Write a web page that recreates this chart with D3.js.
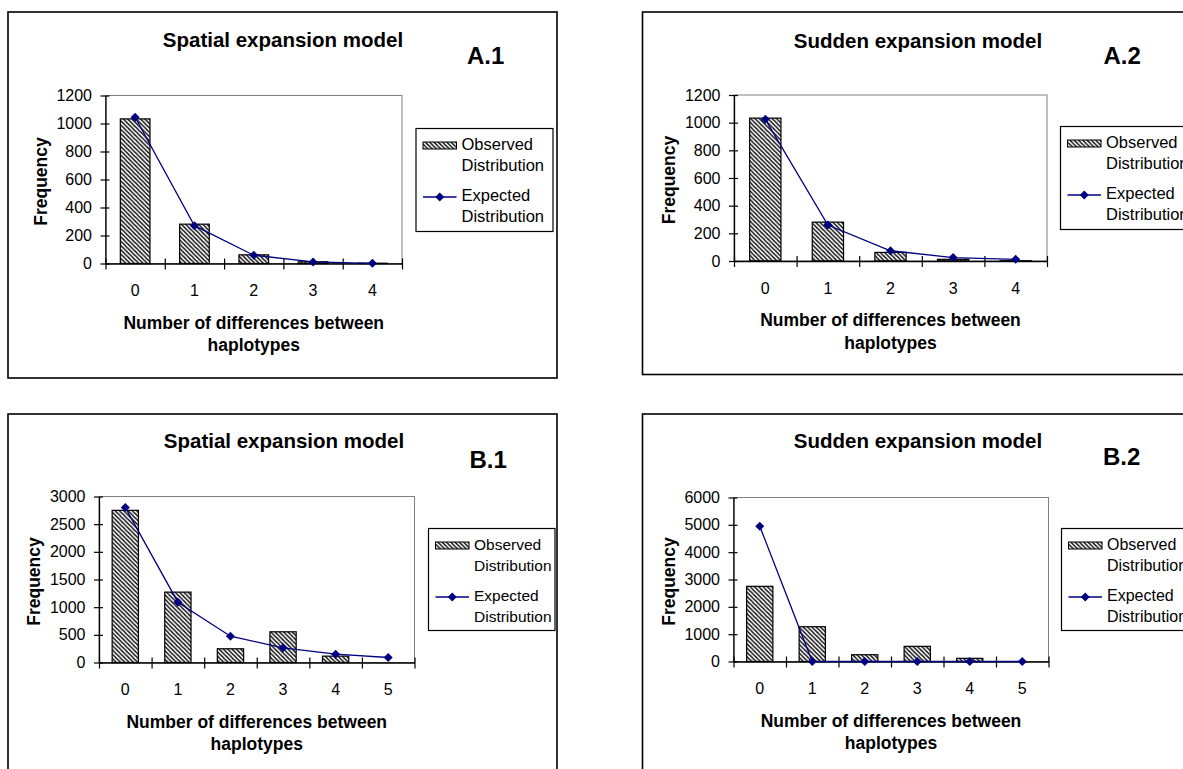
<!DOCTYPE html>
<html lang="en">
<head>
    <meta charset="UTF-8">
    <title>Mismatch distributions</title>
    <script src="https://cdn.jsdelivr.net/npm/d3@7/dist/d3.min.js"></script>
    <style>
        body { margin: 0; background: #fff; }
    </style>
</head>
<body>
    <script>

        //categories (number of differences)
        var catsA = ['0', '1', '2', '3', '4'];
        var catsB = ['0', '1', '2', '3', '4', '5'];

        //observed values (same data in both models)
        var observedA = [1033, 281, 62, 12, 2];
        var observedB = [2750, 1272, 248, 555, 115, 0];

        //expected values per model
        var expectedA1 = [1045, 270, 59, 11, 1];
        var expectedA2 = [1024, 260, 74, 25, 12];
        var expectedB1 = [2800, 1090, 475, 265, 150, 90];
        var expectedB2 = [4950, 0, 0, 0, 0, 0];

        //y tick values
        var yTicksA = [0, 200, 400, 600, 800, 1000, 1200];
        var yTicksB1 = [0, 500, 1000, 1500, 2000, 2500, 3000];
        var yTicksB2 = [0, 1000, 2000, 3000, 4000, 5000, 6000];

        //texts
        var titles = ['Spatial expansion model', 'Sudden expansion model'];
        var tags = ['A.1', 'A.2', 'B.1', 'B.2'];
        var yTitle = 'Frequency';
        var xTitle = ['Number of differences between', 'haplotypes'];
        var legendLabels = [['Observed', 'Distribution'], ['Expected', 'Distribution']];

        var font = '"Liberation Sans", Arial, sans-serif';
        var navy = '#000080';

        //panel layouts
        var panels = [
            { cats: catsA, obs: observedA, exp: expectedA1, yTicks: yTicksA, title: titles[0], tag: tags[0],
              fx: 8, fy: 12, fw: 549, fh: 366, l: 105.5, t: 95.5, r: 402, b: 263.5,
              titleX: 283, titleY: 47, tagX: 467, tagY: 64, lx: 416, ly: 128.5, lw: 137, lh: 103, lf: 16.5 },
            { cats: catsA, obs: observedA, exp: expectedA2, yTicks: yTicksA, title: titles[1], tag: tags[1],
              fx: 642.5, fy: 12, fw: 552, fh: 362.5, l: 734, t: 95, r: 1047, b: 261,
              titleX: 918, titleY: 47.5, tagX: 1103.5, tagY: 63.5, lx: 1060.5, ly: 126.5, lw: 137, lh: 103, lf: 16.5 },
            { cats: catsB, obs: observedB, exp: expectedB1, yTicks: yTicksB1, title: titles[0], tag: tags[2],
              fx: 8, fy: 414, fw: 549, fh: 400, l: 99, t: 496.5, r: 414.5, b: 662.5,
              titleX: 284, titleY: 448, tagX: 469.5, tagY: 468, lx: 428.5, ly: 528.5, lw: 126.5, lh: 102, lf: 15.5 },
            { cats: catsB, obs: observedB, exp: expectedB2, yTicks: yTicksB2, title: titles[1], tag: tags[3],
              fx: 642.5, fy: 414, fw: 552, fh: 400, l: 733.5, t: 497.5, r: 1048.5, b: 661.5,
              titleX: 918, titleY: 448, tagX: 1103, tagY: 464.5, lx: 1061.5, ly: 528.5, lw: 137, lh: 102, lf: 16 }
        ];

        //create svg
        var svg = d3.select('body')
                    .append('svg')
                    .attr('width', 1183)
                    .attr('height', 769)
                    .style('font-family', font);

        //hatch pattern for the bars (downward diagonal)
        svg.append('defs')
            .append('pattern')
            .attr('id', 'hatch')
            .attr('patternUnits', 'userSpaceOnUse')
            .attr('width', 4.3)
            .attr('height', 4.3)
            .append('path')
            .attr('d', 'M0,0L4.3,4.3M-1,3.3L1,5.3M3.3,-1L5.3,1')
            .attr('stroke', '#111')
            .attr('stroke-width', 1.4);

        var diamond = 'M0,-4.5L4.5,0L0,4.5L-4.5,0Z';

        panels.forEach(function(p) {
            var g = svg.append('g');
            var n = p.cats.length;

            //outer frame
            g.append('rect')
                .attr('x', p.fx)
                .attr('y', p.fy)
                .attr('width', p.fw)
                .attr('height', p.fh)
                .attr('fill', 'none')
                .attr('stroke', '#000')
                .attr('stroke-width', 1.6);

            //title and tag
            g.append('text')
                .text(p.title)
                .attr('x', p.titleX)
                .attr('y', p.titleY)
                .attr('text-anchor', 'middle')
                .attr('font-size', '20.5px')
                .attr('font-weight', 'bold');

            g.append('text')
                .text(p.tag)
                .attr('x', p.tagX)
                .attr('y', p.tagY)
                .attr('font-size', '24px')
                .attr('font-weight', 'bold');

            //scales
            var x = d3.scaleBand()
                      .domain(p.cats)
                      .range([p.l, p.r])
                      .paddingInner(0.5)
                      .paddingOuter(0.25);
            var xb = d3.scaleLinear().domain([0, n]).range([p.l, p.r]);
            var y = d3.scaleLinear()
                      .domain([0, d3.max(p.yTicks)])
                      .range([p.b, p.t]);
            var bw = x.bandwidth();

            //plot area border
            g.append('rect')
                .attr('x', p.l)
                .attr('y', p.t)
                .attr('width', p.r - p.l)
                .attr('height', p.b - p.t)
                .attr('fill', 'none')
                .attr('stroke', '#808080')
                .attr('stroke-width', 1);

            //bars
            g.selectAll('rect.bar')
                .data(p.obs.filter(function(d) { return d > 0; }))
                .enter()
                .append('rect')
                .attr('class', 'bar')
                .attr('x', function(d, i) { return x(p.cats[i]); })
                .attr('y', function(d) { return y(d); })
                .attr('width', bw)
                .attr('height', function(d) { return p.b - y(d); })
                .attr('fill', 'url(#hatch)')
                .attr('stroke', '#000')
                .attr('stroke-width', 1.2);

            //y axis with cross ticks
            var ya = g.append('g')
                .attr('transform', 'translate(' + p.l + ',0)')
                .call(d3.axisLeft(y)
                        .tickValues(p.yTicks)
                        .tickFormat(d3.format('d'))
                        .tickSize(5)
                        .tickSizeOuter(0)
                        .tickPadding(8.5));
            ya.selectAll('.tick line').attr('x1', 4).attr('stroke-width', 1.2);
            ya.select('.domain').attr('stroke-width', 1.3);
            ya.selectAll('text')
                .attr('font-size', '16px')
                .attr('font-family', font)
                .attr('fill', '#000');

            //x axis with ticks between categories
            var xa = g.append('g')
                .attr('transform', 'translate(0,' + p.b + ')')
                .call(d3.axisBottom(xb).tickValues(d3.range(n + 1)).tickFormat('').tickSize(6).tickSizeOuter(0));
            xa.selectAll('.tick line').attr('y1', -5).attr('stroke-width', 1.2);
            xa.select('.domain').attr('stroke-width', 1.4);

            //category labels
            g.selectAll('text.cat')
                .data(p.cats)
                .enter()
                .append('text')
                .attr('class', 'cat')
                .text(function(d) { return d; })
                .attr('x', function(d) { return x(d) + bw / 2; })
                .attr('y', p.b + 32.5)
                .attr('text-anchor', 'middle')
                .attr('font-size', '16px');

            //expected line and markers
            var line = d3.line()
                .x(function(d, i) { return x(p.cats[i]) + bw / 2; })
                .y(function(d) { return y(d); });

            g.append('path')
                .datum(p.exp)
                .attr('d', line)
                .attr('fill', 'none')
                .attr('stroke', navy)
                .attr('stroke-width', 1.3);

            g.selectAll('path.mark')
                .data(p.exp)
                .enter()
                .append('path')
                .attr('class', 'mark')
                .attr('d', diamond)
                .attr('transform', function(d, i) {
                    return 'translate(' + (x(p.cats[i]) + bw / 2) + ',' + y(d) + ')';
                })
                .attr('fill', navy);

            //axis titles
            g.selectAll('text.xt')
                .data(xTitle)
                .enter()
                .append('text')
                .attr('class', 'xt')
                .text(function(d) { return d; })
                .attr('x', (p.l + p.r) / 2)
                .attr('y', function(d, i) { return p.b + 65 + i * 22.5; })
                .attr('text-anchor', 'middle')
                .attr('font-size', '17.5px')
                .attr('font-weight', 'bold');

            g.append('text')
                .text(yTitle)
                .attr('transform', 'translate(' + (p.l - 59) + ',' + ((p.t + p.b) / 2 + 2) + ') rotate(-90)')
                .attr('text-anchor', 'middle')
                .attr('font-size', '17.5px')
                .attr('font-weight', 'bold');

            //legend
            var lg = g.append('g').attr('transform', 'translate(' + p.lx + ',' + p.ly + ')');
            lg.append('rect')
                .attr('width', p.lw)
                .attr('height', p.lh)
                .attr('fill', '#fff')
                .attr('stroke', '#000')
                .attr('stroke-width', 1.2);
            lg.append('rect')
                .attr('x', 7)
                .attr('y', 13.5)
                .attr('width', 33.5)
                .attr('height', 7)
                .attr('fill', 'url(#hatch)')
                .attr('stroke', '#000')
                .attr('stroke-width', 1);
            lg.append('line')
                .attr('x1', 7)
                .attr('x2', 40.5)
                .attr('y1', 68.5)
                .attr('y2', 68.5)
                .attr('stroke', navy)
                .attr('stroke-width', 1.3);
            lg.append('path')
                .attr('d', diamond)
                .attr('transform', 'translate(23.75,68.5)')
                .attr('fill', navy);
            legendLabels.forEach(function(lines, k) {
                lines.forEach(function(t, j) {
                    lg.append('text')
                        .text(t)
                        .attr('x', 45.5)
                        .attr('y', 21 + k * 51 + j * 21.5)
                        .attr('font-size', p.lf + 'px');
                });
            });
        });

    </script>
</body>
</html>
